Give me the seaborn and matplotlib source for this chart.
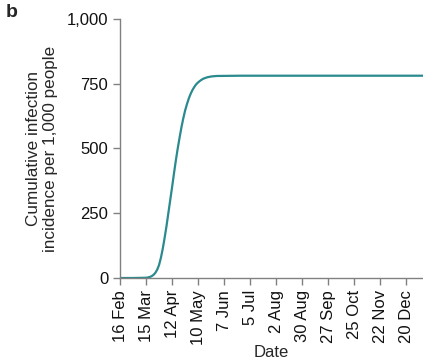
"""
Cumulative infection incidence over time (panel b)
"""

import matplotlib
matplotlib.use('Agg')
import matplotlib.pyplot as plt
import matplotlib.dates as mdates
import seaborn as sns
import pandas as pd

# data: days since 16 Feb 2020 and cumulative incidence
start_date = '2020-02-16'
day_offsets = [0, 14, 28, 30, 32, 34, 36, 38, 40, 42,
               44, 46, 48, 50, 52, 54, 56, 58, 60, 62,
               64, 66, 68, 70, 72, 74, 76, 78, 80, 82,
               84, 86, 88, 90, 94, 98, 104, 130, 200, 280, 327]
incidence = [0, 0, 1, 2, 4, 7, 12, 20, 32, 50,
             78, 113, 155, 200, 250, 300, 350, 402, 452, 498,
             540, 580, 615, 646, 671, 693, 711, 726, 738, 748,
             755, 761, 766, 770, 775, 778, 780, 781, 781, 781, 781]

tick_dates = ['2020-02-16', '2020-03-15', '2020-04-12', '2020-05-10', '2020-06-07',
              '2020-07-05', '2020-08-02', '2020-08-30', '2020-09-27', '2020-10-25',
              '2020-11-22', '2020-12-20']
y_ticks = [0, 250, 500, 750, 1000]
y_labels = ['0', '250', '500', '750', '1,000']

df = pd.DataFrame({
    'date': pd.Timestamp(start_date) + pd.to_timedelta(day_offsets, unit='D'),
    'incidence': incidence,
})

sns.set_style('white')
plt.rcParams['font.family'] = ['Liberation Sans', 'DejaVu Sans']
plt.rcParams['font.size'] = 12

fig = plt.figure(figsize=(4.23, 3.61), dpi=100)
ax = fig.add_axes([0.2837, 0.2299, 0.7163, 0.7175])

sns.lineplot(data=df, x='date', y='incidence', ax=ax, color='#2a8a8e', linewidth=1.6)

ax.set_xlim(pd.Timestamp(start_date), pd.Timestamp('2021-01-07'))
ax.set_ylim(0, 1000)
ax.set_xticks(pd.to_datetime(tick_dates))
ax.xaxis.set_major_formatter(mdates.DateFormatter('%-d %b'))
ax.set_yticks(y_ticks)
ax.set_yticklabels(y_labels)
plt.setp(ax.get_xticklabels(), rotation=90)

for side in ['top', 'right']:
    ax.spines[side].set_visible(False)
for side in ['left', 'bottom']:
    ax.spines[side].set_color('#808080')
    ax.spines[side].set_linewidth(1.0)
ax.tick_params(axis='both', direction='out', length=5, width=1.0, color='#808080',
               labelsize=12, labelcolor='#111111', pad=3.5, left=True, bottom=True)

ax.set_xlabel('Date', fontsize=12, labelpad=0)
ax.set_ylabel('Cumulative infection\nincidence per 1,000 people', fontsize=12.3,
              labelpad=6, linespacing=1.2)

fig.text(0.014, 0.99, 'b', fontsize=14, fontweight='bold', va='top', ha='left')

fig.savefig('out.png', dpi=100)
